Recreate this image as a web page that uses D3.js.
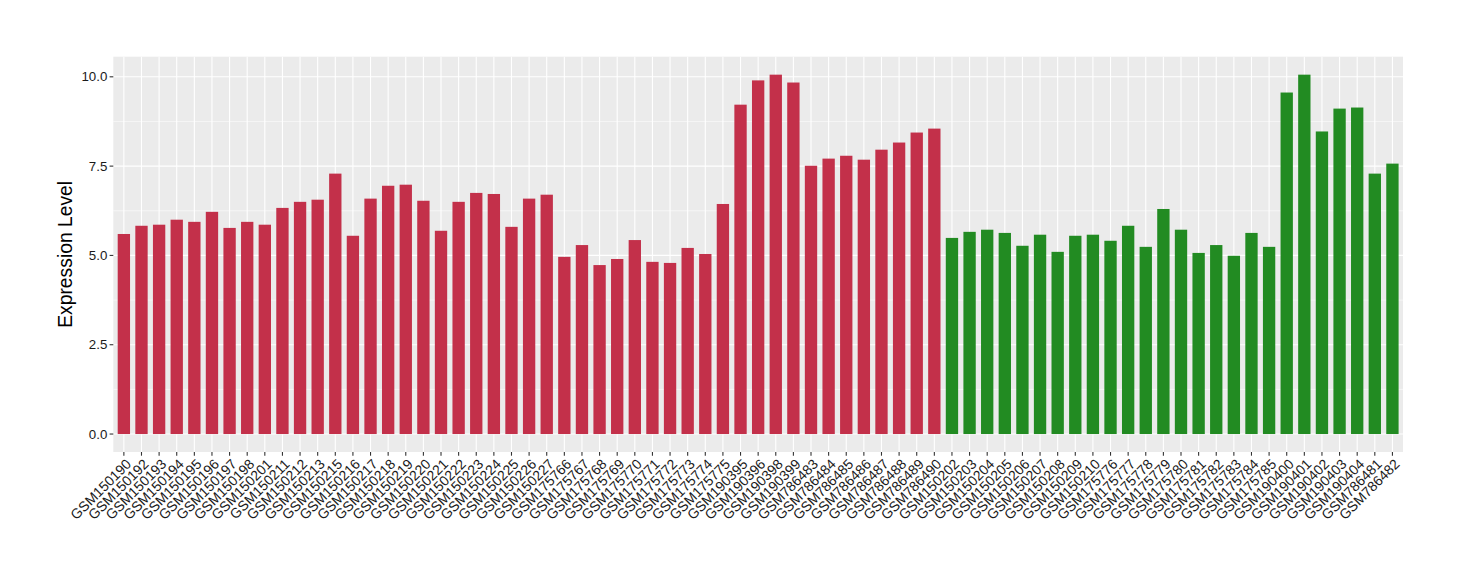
<!DOCTYPE html>
<html><head><meta charset="utf-8">
<script src="https://cdn.jsdelivr.net/npm/d3@7"></script>
<style>body{margin:0;background:#fff;} svg{display:block;}</style>
</head><body><svg id="c" width="1460" height="580"></svg>
<script>
const samples = ["GSM150190","GSM150192","GSM150193","GSM150194","GSM150195","GSM150196","GSM150197","GSM150198","GSM150201","GSM150211","GSM150212","GSM150213","GSM150215","GSM150216","GSM150217","GSM150218","GSM150219","GSM150220","GSM150221","GSM150222","GSM150223","GSM150224","GSM150225","GSM150226","GSM150227","GSM175766","GSM175767","GSM175768","GSM175769","GSM175770","GSM175771","GSM175772","GSM175773","GSM175774","GSM175775","GSM190395","GSM190396","GSM190398","GSM190399","GSM786483","GSM786484","GSM786485","GSM786486","GSM786487","GSM786488","GSM786489","GSM786490","GSM150202","GSM150203","GSM150204","GSM150205","GSM150206","GSM150207","GSM150208","GSM150209","GSM150210","GSM175776","GSM175777","GSM175778","GSM175779","GSM175780","GSM175781","GSM175782","GSM175783","GSM175784","GSM175785","GSM190400","GSM190401","GSM190402","GSM190403","GSM190404","GSM786481","GSM786482"];
const values = [5.60,5.83,5.86,6.00,5.94,6.22,5.77,5.94,5.86,6.33,6.50,6.56,7.29,5.55,6.59,6.95,6.98,6.53,5.69,6.50,6.75,6.72,5.80,6.59,6.70,4.96,5.29,4.73,4.90,5.43,4.82,4.79,5.21,5.04,6.44,9.22,9.90,10.06,9.84,7.51,7.71,7.79,7.68,7.96,8.16,8.44,8.55,5.49,5.66,5.72,5.63,5.27,5.58,5.10,5.55,5.58,5.41,5.83,5.24,6.30,5.72,5.07,5.29,4.99,5.63,5.24,9.56,10.06,8.47,9.11,9.14,7.29,7.57];
const groups = ["A","A","A","A","A","A","A","A","A","A","A","A","A","A","A","A","A","A","A","A","A","A","A","A","A","A","A","A","A","A","A","A","A","A","A","A","A","A","A","A","A","A","A","A","A","A","A","B","B","B","B","B","B","B","B","B","B","B","B","B","B","B","B","B","B","B","B","B","B","B","B","B","B"];
const groupColors = {A:"#C3304A", B:"#228B22"};
const yTicks = [0, 2.5, 5, 7.5, 10];
const yMinor = [1.25, 3.75, 6.25, 8.75];

const svg = d3.select("#c");
const L = 113.3, R = 1403, T = 56.7, B = 452;
const x = d3.scalePoint().domain(samples).range([L, R]).padding(0.6);
const step = x.step();
const bw = step * 0.7;
const yMax = d3.max(values);
const pad = yMax * 0.05;
const y = d3.scaleLinear().domain([-pad, yMax + pad]).range([B, T]);
const FONT = "Liberation Sans, Arial, Helvetica, sans-serif";

svg.append("rect").attr("x", L).attr("y", T).attr("width", R - L).attr("height", B - T).attr("fill", "#EBEBEB");
const g = svg.append("g");
g.selectAll(".ymin").data(yMinor).join("line")
  .attr("x1", L).attr("x2", R).attr("y1", d => y(d)).attr("y2", d => y(d))
  .attr("stroke", "#fff").attr("stroke-width", 0.55);
g.selectAll(".ymaj").data(yTicks).join("line")
  .attr("x1", L).attr("x2", R).attr("y1", d => y(d)).attr("y2", d => y(d))
  .attr("stroke", "#fff").attr("stroke-width", 1.1);
g.selectAll(".xmaj").data(samples).join("line")
  .attr("x1", d => x(d)).attr("x2", d => x(d)).attr("y1", T).attr("y2", B)
  .attr("stroke", "#fff").attr("stroke-width", 1.1);

svg.append("g").selectAll("rect").data(samples).join("rect")
  .attr("x", d => x(d) - bw / 2).attr("width", bw)
  .attr("y", (d, i) => y(values[i])).attr("height", (d, i) => y(0) - y(values[i]))
  .attr("fill", (d, i) => groupColors[groups[i]]);

// y axis
const ya = svg.append("g");
ya.selectAll("line").data(yTicks).join("line")
  .attr("x1", L - 3.7).attr("x2", L).attr("y1", d => y(d)).attr("y2", d => y(d))
  .attr("stroke", "#333").attr("stroke-width", 1.1);
ya.selectAll("text").data(yTicks).join("text")
  .attr("x", L - 6).attr("y", d => y(d)).attr("dy", "0.35em")
  .attr("text-anchor", "end").attr("font-family", FONT)
  .attr("font-size", 13.3).attr("fill", "#1a1a1a").text(d => d.toFixed(1));

// x axis
const xa = svg.append("g");
xa.selectAll("line").data(samples).join("line")
  .attr("x1", d => x(d)).attr("x2", d => x(d)).attr("y1", B).attr("y2", B + 3.7)
  .attr("stroke", "#333").attr("stroke-width", 1.1);
xa.selectAll("text").data(samples).join("text")
  .attr("transform", d => `translate(${x(d) + 1},${B + 6}) rotate(-45)`)
  .attr("dy", "0.71em").attr("text-anchor", "end")
  .attr("font-family", FONT)
  .attr("font-size", 14).attr("fill", "#1a1a1a").text(d => d);

svg.append("text")
  .attr("transform", `translate(72,${(T + B) / 2}) rotate(-90)`)
  .attr("text-anchor", "middle").attr("font-family", FONT)
  .attr("font-size", 19.3).attr("fill", "#000").text("Expression Level");
</script></body></html>
